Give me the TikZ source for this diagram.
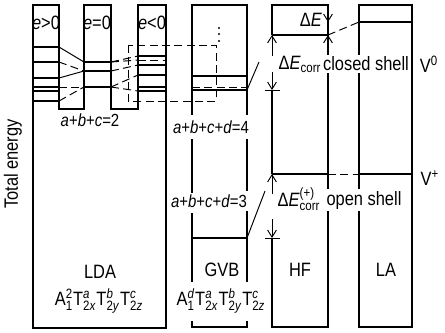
\documentclass[tikz,border=0pt]{standalone}
\usepackage{amsmath}
\usepackage{fontspec}
\setmainfont{Liberation Sans}[FakeStretch=0.85]
\usetikzlibrary{arrows.meta, positioning}
\newcommand{\orbital}[3]{#1$^{\text{#2}}_{\text{#3}}$}

\begin{document}
\begin{tikzpicture}[x=0.02cm, y=-0.02cm,
    frame/.style={line width=0.75pt},
    level/.style={line width=0.75pt},
    link/.style={line width=0.55pt, dash pattern=on 4.5pt off 2.5pt},
    thinline/.style={line width=0.55pt},
    dim/.style={-{Straight Barb[length=4pt,width=5pt]}, line width=0.55pt},
    label/.style={font=\fontsize{11}{13}\selectfont, inner sep=1pt},
    sumlabel/.style={font=\fontsize{10}{12}\selectfont, inner sep=1pt},
    blank/.style={label, fill=white}
]
\useasboundingbox (0,0) rectangle (445,332);

% LDA outline with the three prongs
\draw[frame] (33,328) -- (33,5) -- (59,5) -- (59,109) -- (84,109) -- (84,5) -- (111,5)
  -- (111,109) -- (138,109) -- (138,5) -- (166,5) -- (166,328) -- cycle;

% levels in the prongs
\foreach \y in {47,62,78,87,91,101} \draw[level] (33,\y) -- (59,\y);
\foreach \y in {62,71,87} \draw[level] (84,\y) -- (111,\y);
\foreach \y in {56,65,75,87,91} \draw[level] (138,\y) -- (166,\y);
\draw[link] (138,60) -- (166,60);

% e>0 to e=0
\draw[thinline] (59,47) -- (84,62);
\draw[link] (59,62) -- (84,71);
\draw[thinline] (59,78) -- (84,71);
\draw[link] (59,87) -- (84,87);
\draw[link] (59,101) -- (84,87);

% e=0 to e<0
\draw[link] (111,62) -- (138,56);
\draw[link] (111,62) -- (138,60);
\draw[link] (111,71) -- (138,65);
\draw[link] (111,87) -- (138,75);
\draw[link] (111,87) -- (138,91);

% dashed box round the e<0 and GVB levels
\draw[link] (128,45) rectangle (216,101);

% GVB column
\draw[frame] (192,115) -- (192,5) -- (247,5) -- (247,115);
\draw[frame] (192,139) -- (192,193);
\draw[frame] (247,139) -- (247,191);
\draw[frame] (192,213) -- (192,282);
\draw[frame] (247,211) -- (247,282);
\draw[frame] (192,321) -- (192,327) -- (247,327) -- (247,321);
\draw[level] (192,76) -- (247,76);
\draw[link] (192,87) -- (247,87);
\draw[level] (192,90) -- (247,90);
\draw[level] (192,238) -- (247,238);
\foreach \y in {28,34,41} \fill (219,\y) circle (1.2);

% HF column
\coordinate (hfclosed) at (272,35);
\coordinate (hfopen) at (272,174);
\coordinate (gvbtop) at (272,90);
\coordinate (gvbbot) at (272,238);
\draw[frame] (hfclosed) -- (272,5) -- (328,5) -- (328,327) -- (272,327) -- (gvbbot);
\draw[frame] (gvbtop) -- (hfopen);
\draw[level] (hfclosed) -- (328,35);
\draw[level] (hfopen) -- (328,174);

% LA column
\draw[frame] (359,5) rectangle (412,327);
\draw[level] (359,22) -- (412,22);
\draw[level] (359,174) -- (412,174);
\draw[link] (328,35) -- (359,22);
\draw[link] (328,174) -- (359,174);

% GVB to HF
\draw[thinline] (247,90) -- (259,62);
\draw[thinline] (247,238) -- (265,191);

% energy differences
\draw[dim] (328,7) -- (328,22);
\draw[dim] (328,52) -- (328,35);
\draw[dim] (272,56) -- (hfclosed);
\draw[dim] (272,72) -- (gvbtop);
\draw[thinline] (265,90) -- (280,90);
\draw[dim] (272,194) -- (hfopen);
\draw[dim] (272,219) -- (gvbbot);
\draw[thinline] (265,238) -- (280,238);

% labels
\node[label] (eplus) at (46,23) {\textit{e}>0};
\node[label] (ezero) at (97,23) {\textit{e}=0};
\node[label] (eminus) at (152,23) {\textit{e}<0};
\node[sumlabel] (sumlda) at (90,120) {\textit{a}+\textit{b}+\textit{c}=2};
\node[sumlabel] (sumfour) at (211,127) {\textit{a}+\textit{b}+\textit{c}+\textit{d}=4};
\node[sumlabel] (sumthree) at (209,201) {\textit{a}+\textit{b}+\textit{c}+\textit{d}=3};
\node[label, rotate=90] (etot) at (13,164) {Total energy};
\node[label] (de) at (311,20) {Δ\textit{E}};
\node[label] (decorr) at (300,64) {Δ\textit{E}$_{\text{corr}}$};
\node[blank] (closed) at (366,64) {closed shell};
\node[label] (decorrplus) at (299,199) {Δ\textit{E}$^{\text{(+)}}_{\text{corr}}$};
\node[blank] (open) at (364,200) {open shell};
\node[label] (vzero) at (429,64) {V$^{\text{0}}$};
\node[label] (vplus) at (430,178) {V$^{\text{+}}$};
\node[label] (lda) at (100,272) {LDA};
\node[label] (gvb) at (222,270) {GVB};
\node[label] (hf) at (300,270) {HF};
\node[label] (la) at (386,270) {LA};
\node[label] (ldaconf) at (99,301) {\orbital{A}{2}{1}\orbital{T}{\textit{a}}{2\textit{x}}\orbital{T}{\textit{b}}{2\textit{y}}\orbital{T}{\textit{c}}{2\textit{z}}};
\node[label] (gvbconf) at (221,301) {\orbital{A}{\textit{d}}{1}\orbital{T}{\textit{a}}{2\textit{x}}\orbital{T}{\textit{b}}{2\textit{y}}\orbital{T}{\textit{c}}{2\textit{z}}};

\end{tikzpicture}
\end{document}
